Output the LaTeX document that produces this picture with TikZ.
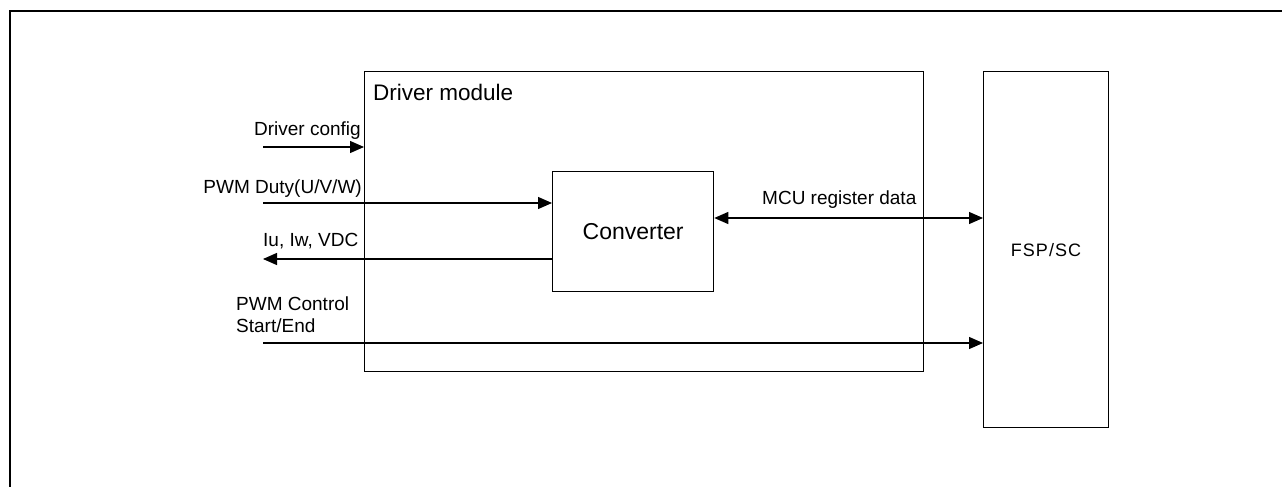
\documentclass[tikz,border=0pt]{standalone}
\usepackage{fontspec}
\setmainfont{Liberation Sans}
\usetikzlibrary{arrows.meta}
\begin{document}
\begin{tikzpicture}[x=1pt,y=-1pt,
  box/.style={draw, line width=1.3pt, inner sep=0pt},
  lbl/.style={inner sep=0pt, font=\fontsize{19}{22}\selectfont},
  big/.style={inner sep=0pt, font=\fontsize{22.5}{26}\selectfont},
  conn/.style={line width=1.3pt, -{Triangle[length=14pt,width=12pt]}},
  bconn/.style={line width=1.3pt, {Triangle[length=14pt,width=12pt]}-{Triangle[length=14pt,width=12pt]}}
]
\useasboundingbox (0,0) rectangle (1282,487);
\fill[white] (0,0) rectangle (1282,487);
\draw[line width=2.8pt] (10,487) -- (10,11) -- (1282,11);

% boxes
\node[box, minimum width=559pt, minimum height=300pt, anchor=north west] (drv) at (364,71) {};
\node[box, minimum width=161pt, minimum height=120pt, anchor=north west] (conv) at (552,171) {};
\node[box, minimum width=125pt, minimum height=356pt, anchor=north west] (fsp) at (983,71) {};

% box texts
\node[big, anchor=base west] (drvT) at (373,100) {Driver module};
\node[inner sep=0pt, font=\fontsize{23}{27}\selectfont] (convT) at (conv.center) {Converter};
\node[inner sep=0pt, font=\fontsize{18}{22}\selectfont\addfontfeature{LetterSpace=6}] (fspT) at (1046,250) {FSP/SC};

% labels
\node[lbl, anchor=base east] (cfgT) at (361,135) {Driver config};
\node[lbl, anchor=base east] (pwmT) at (362,193) {PWM Duty(U/V/W)};
\node[lbl, anchor=base west] (iuT) at (263,246) {Iu, Iw, VDC};
\node[lbl, anchor=base west] (ctlT) at (236,310) {PWM Control};
\node[lbl, anchor=base west] (ctlT2) at (236,332) {Start/End};
\node[lbl, anchor=base west] (mcuT) at (762,204) {MCU register data};

% connectors
\coordinate (cfgS) at (263,147);
\coordinate (pwmS) at (263,203);
\coordinate (iuE) at (263,259);
\coordinate (ctlS) at (263,343);
\coordinate (mcuY) at (0,218);
\draw[conn] (cfgS) -- (cfgS -| drv.west);
\draw[conn] (pwmS) -- (pwmS -| conv.west);
\draw[conn] (iuE -| conv.west) -- (iuE);
\draw[conn] (ctlS) -- (ctlS -| fsp.west);
\draw[bconn] (mcuY -| conv.east) -- (mcuY -| fsp.west);
\end{tikzpicture}
\end{document}
